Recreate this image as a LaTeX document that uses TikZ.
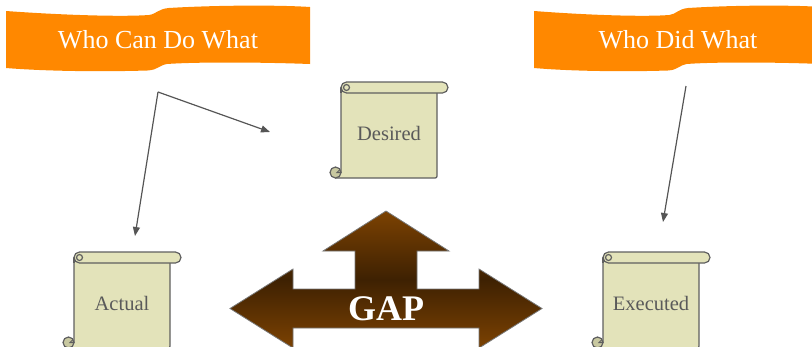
\documentclass[tikz,border=0pt]{standalone}
\usepackage{fontspec}
\setmainfont{Liberation Serif}
\usetikzlibrary{arrows.meta}
\definecolor{bannerorange}{RGB}{255,136,0}
\definecolor{scrollfill}{RGB}{227,227,186}
\definecolor{curlfill}{RGB}{200,200,160}
\definecolor{scrollline}{RGB}{95,95,95}
\definecolor{scrolltext}{RGB}{90,90,90}
\definecolor{conn}{RGB}{85,85,85}
\definecolor{gaplight}{RGB}{124,66,2}
\definecolor{gapdark}{RGB}{62,33,2}
\definecolor{gapline}{RGB}{120,120,120}
\tikzset{
  scrollpart/.style={draw=scrollline, fill=scrollfill, line width=1.2pt},
  curlpart/.style={draw=scrollline, fill=curlfill, line width=1.2pt},
  scrolllabel/.style={text=scrolltext, font=\fontsize{20.5}{24}\selectfont, inner sep=0pt},
  bannertext/.style={text=white, font=\fontsize{26}{30}\selectfont, inner sep=0pt},
  gaplabel/.style={text=white, font=\bfseries\fontsize{36}{40}\selectfont, inner sep=0pt},
  connector/.style={draw=conn, line width=1.2pt, -{Triangle[length=9pt,width=7pt]}},
}
\newcommand\myscroll[4]{%
  \begin{scope}[shift={(#1,#2)}]
    \path[scrollpart] (-5.5,96) -- (92,96) .. controls (96,96) .. (96,92) -- (96,5.5)
      -- (0,5.5) -- (0,90.5) -- (-5.5,90.5) -- cycle;
    \path[curlpart] (-5.5,90.5) circle[radius=5.5];
    \draw[scrollline, line width=1pt] (0,90.5) -- (-4,90.5) arc[start angle=180, end angle=300, radius=1.8];
    \path[scrollpart, rounded corners=5.5] (0,0) rectangle (107,11);
    \path[scrollpart] (5.5,5.5) circle[radius=3];
    \draw[scrollline, line width=1.2pt] (0,5.5) -- (0,11);
    \node[scrolllabel] (#3) at (48,51) {#4};
  \end{scope}}
\newcommand\mybanner[4]{%
  \begin{scope}[shift={(#1,0)}]
    \pgfmathsetmacro\bw{#2}
    \fill[bannerorange] (0,11) .. controls ({0.18*\bw},15) and ({0.38*\bw},17) .. ({0.47*\bw},15)
      .. controls ({0.495*\bw},14) and ({0.5*\bw},9) .. ({0.535*\bw},8)
      .. controls ({0.7*\bw},5) and ({0.9*\bw},5) .. (\bw,7) -- (\bw,64)
      .. controls ({0.82*\bw},62) and ({0.62*\bw},62) .. ({0.53*\bw},64)
      .. controls ({0.505*\bw},65) and ({0.5*\bw},70) .. ({0.465*\bw},70.5)
      .. controls ({0.3*\bw},72) and ({0.12*\bw},71) .. (0,68) -- cycle;
    \node[bannertext] (#3) at ({0.5*\bw},40) {#4};
  \end{scope}}
\begin{document}
\begin{tikzpicture}[x=1pt, y=-1pt]
  \useasboundingbox (0,0) rectangle (812,346);
  % banners
  \mybanner{6}{304}{bannerleft}{Who Can Do What}
  \mybanner{534}{288}{bannerright}{Who Did What}
  % scrolls
  \myscroll{341}{82}{desired}{Desired}
  \myscroll{74}{252}{actual}{Actual}
  \myscroll{603}{252}{executed}{Executed}
  % GAP arrow
  \path[draw=gapline, line width=0.8pt, top color=gaplight, bottom color=gaplight, middle color=gapdark]
    (386,211) -- (449,251) -- (417,251) -- (417,289) -- (479,289) -- (479,269)
    -- (542,308.5) -- (479,348) -- (479,328) -- (293,328) -- (293,348)
    -- (230,308.5) -- (293,269) -- (293,289) -- (355,289) -- (355,251)
    -- (323,251) -- cycle;
  \node[gaplabel] (gap) at (386,309) {GAP};
  % connectors
  \coordinate (lstart) at (158,92);
  \coordinate (lend1) at (270,132);
  \coordinate (lend2) at (135,236);
  \coordinate (rstart) at (686,86);
  \coordinate (rend) at (663,222);
  \draw[connector] (lstart) -- (lend1);
  \draw[connector] (lstart) -- (lend2);
  \draw[connector] (rstart) -- (rend);
\end{tikzpicture}
\end{document}
